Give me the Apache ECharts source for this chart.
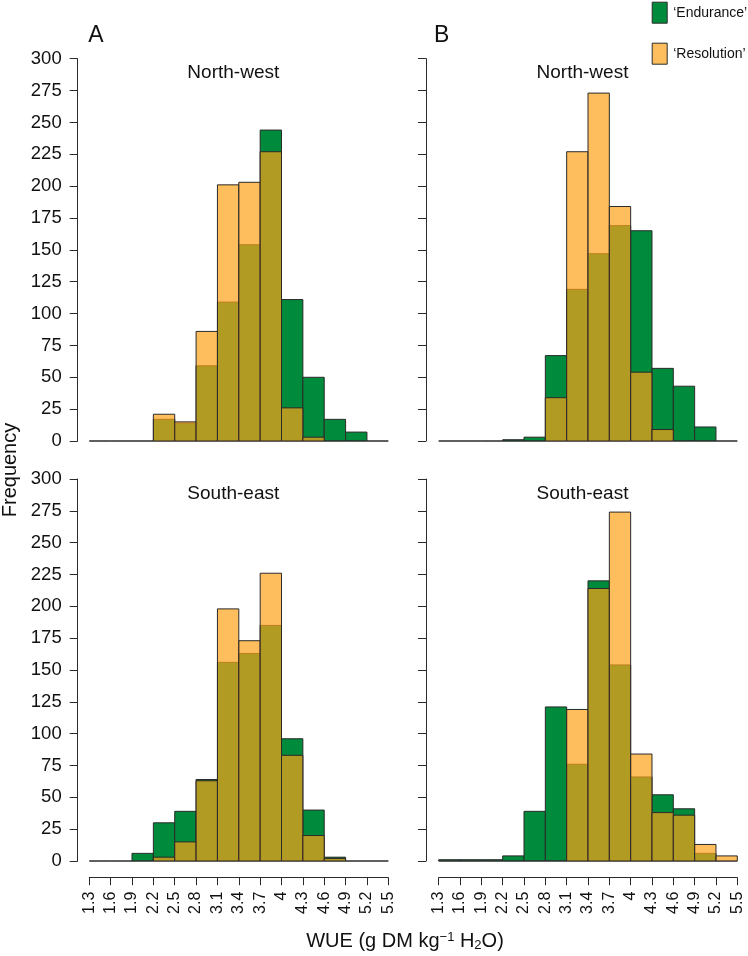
<!DOCTYPE html>
<html>
<head>
<meta charset="utf-8">
<script src="https://cdn.jsdelivr.net/npm/echarts@6/dist/echarts.min.js"></script>
<style>
html,body{margin:0;padding:0;background:#fff;}
#chart{width:748px;height:956px;}
</style>
</head>
<body>
<div id="chart"></div>
<script>
// ---- data ----
const xTickLabels = ['1.3','1.6','1.9','2.2','2.5','2.8','3.1','3.4','3.7','4','4.3','4.6','4.9','5.2','5.5'];
const panelTitles = ['North-west','North-west','South-east','South-east'];
const panelLetters = ['A','B'];
const seriesNames = ['\u2018Endurance\u2019','\u2018Resolution\u2019'];

const nwA_endurance  = [0,0,0,17,14,59,109,154,244,111,50,17,7,0];
const nwA_resolution = [0,0,0,21,15,86,201,203,227,26,3,0,0,0];
const nwB_endurance  = [0,0,0,1,3,67,119,147,169,165,57,43,11,0];
const nwB_resolution = [0,0,0,0,0,34,227,273,184,54,9,0,0,0];
const seA_endurance  = [0,0,6,30,39,64,156,163,185,96,40,3,0,0];
const seA_resolution = [0,0,0,3,15,63,198,173,226,83,20,2,0,0];
const seB_endurance  = [1,1,1,4,39,121,76,220,154,66,52,41,6,0];
const seB_resolution = [0,0,0,0,0,0,119,214,274,84,38,36,13,4];

// ---- styling ----
const FONT = "'Liberation Sans', Arial, Helvetica, sans-serif";
const GREEN = '#008a3b';
const ORANGE = 'rgba(254,163,24,0.7)';
const EDGE = '#2a2a2a';

const panels = [
  {e: nwA_endurance, r: nwA_resolution, left: 89.3, top: 58.7, width: 299, height: 382.3, yLabels: true, xLabels: false, yOff: 11.6},
  {e: nwB_endurance, r: nwB_resolution, left: 438.7, top: 58.7, width: 298.6, height: 382.3, yLabels: false, xLabels: false, yOff: 12.7},
  {e: seA_endurance, r: seA_resolution, left: 89.3, top: 479, width: 299, height: 382, yLabels: true, xLabels: true, yOff: 11.6},
  {e: seB_endurance, r: seB_resolution, left: 438.7, top: 479, width: 298.6, height: 382, yLabels: false, xLabels: true, yOff: 12.7}
];

// R-style histogram bin: a rectangle for each bin, zero-count bins collapse to a line at 0
function renderBin(params, api) {
  const i = api.value(0), v = api.value(1);
  const p0 = api.coord([i, v]);
  const p1 = api.coord([i + 1, 0]);
  if (!v) {
    return {type: 'line', shape: {x1: p0[0], y1: p1[1], x2: p1[0], y2: p1[1]},
            style: {stroke: EDGE, lineWidth: 1}};
  }
  return {
    type: 'rect',
    shape: {x: p0[0], y: p0[1], width: p1[0] - p0[0], height: p1[1] - p0[1]},
    style: {fill: api.visual('color'), stroke: EDGE, lineWidth: 1}
  };
}

const grid = [], xAxis = [], yAxis = [], series = [];
panels.forEach((p, k) => {
  grid.push({left: p.left, top: p.top, width: p.width, height: p.height, containLabel: false});
  xAxis.push({
    type: 'value', gridIndex: k, min: 0, max: 14, interval: 1, position: 'bottom', offset: 16.7,
    axisLine: {show: p.xLabels, onZero: false, lineStyle: {color: EDGE, width: 1}},
    axisTick: {show: p.xLabels, inside: false, length: 7.5, lineStyle: {color: EDGE, width: 1}},
    axisLabel: {show: p.xLabels, rotate: 90, margin: 14, fontSize: 16, fontFamily: FONT, color: '#111',
                formatter: v => xTickLabels[Math.round(v)]},
    splitLine: {show: false}
  });
  yAxis.push({
    type: 'value', gridIndex: k, min: 0, max: 300, interval: 25, position: 'left', offset: p.yOff,
    axisLine: {show: true, onZero: false, lineStyle: {color: EDGE, width: 1}},
    axisTick: {show: true, inside: false, length: 8, lineStyle: {color: EDGE, width: 1}},
    axisLabel: {show: p.yLabels, margin: 16, fontSize: 18.5, fontFamily: FONT, color: '#111'},
    splitLine: {show: false}
  });
  series.push({
    type: 'custom', name: seriesNames[0], xAxisIndex: k, yAxisIndex: k,
    itemStyle: {color: GREEN, borderColor: EDGE, borderWidth: 1},
    renderItem: renderBin, encode: {x: 0, y: 1},
    data: p.e.map((v, i) => [i, v]), z: 2, silent: true
  });
  series.push({
    type: 'custom', name: seriesNames[1], xAxisIndex: k, yAxisIndex: k,
    itemStyle: {color: ORANGE, borderColor: EDGE, borderWidth: 1},
    renderItem: renderBin, encode: {x: 0, y: 1},
    data: p.r.map((v, i) => [i, v]), z: 3, silent: true
  });
});

const titlePos = [[233.3, 73], [582.5, 73], [233.3, 494], [582.5, 494]];
const graphic = [];
panelTitles.forEach((t, k) => {
  graphic.push({type: 'text', x: titlePos[k][0], y: titlePos[k][1],
    style: {text: t, font: '19px ' + FONT, fill: '#111', textAlign: 'center', textVerticalAlign: 'middle'}});
});
const letterPos = [[88.3, 36], [434, 35.5]];
panelLetters.forEach((t, k) => {
  graphic.push({type: 'text', x: letterPos[k][0], y: letterPos[k][1],
    style: {text: t, font: '23px ' + FONT, fill: '#111', textAlign: 'left', textVerticalAlign: 'middle'}});
});
graphic.push({type: 'text', x: 10, y: 470, rotation: Math.PI / 2,
  style: {text: 'Frequency', font: '20px ' + FONT, fill: '#111', textAlign: 'center', textVerticalAlign: 'middle'}});
graphic.push({type: 'text', x: 405, y: 941,
  style: {text: 'WUE (g DM kg{sup|\u22121} H{sub|2}O)', font: '20px ' + FONT, fill: '#111',
    textAlign: 'center', textVerticalAlign: 'middle',
    rich: {
      sup: {fontSize: 13, fontFamily: FONT, fill: '#111', verticalAlign: 'top'},
      sub: {fontSize: 13, fontFamily: FONT, fill: '#111', verticalAlign: 'bottom', padding: [8, 0, 0, 0]}
    }}});

const chart = echarts.init(document.getElementById('chart'), null, {renderer: 'canvas'});
chart.setOption({
  animation: false,
  backgroundColor: '#fff',
  legend: {
    data: [{name: seriesNames[0], icon: 'rect'}, {name: seriesNames[1], icon: 'rect'}],
    orient: 'vertical', left: 651.7, top: 1.7, padding: 0,
    itemWidth: 15, itemHeight: 21, itemGap: 19,
    itemStyle: {borderColor: EDGE, borderWidth: 1},
    textStyle: {fontSize: 14, fontFamily: FONT, color: '#111', padding: [0, 0, 0, 1]},
    selectedMode: false
  },
  grid, xAxis, yAxis, series, graphic
});
</script>
</body>
</html>
